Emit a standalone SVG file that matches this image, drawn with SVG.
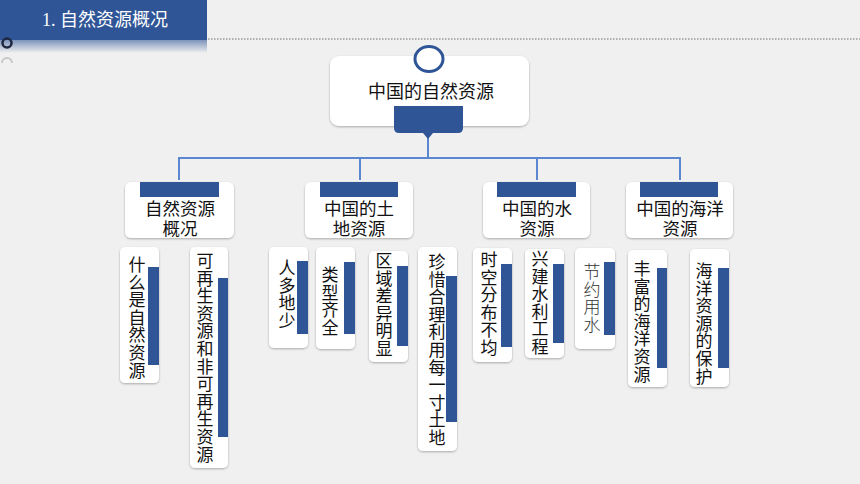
<svg xmlns="http://www.w3.org/2000/svg" width="860" height="484" viewBox="0 0 860 484">
<defs>
<linearGradient id="hg" x1="0" y1="0" x2="0" y2="1">
<stop offset="0" stop-color="#2f5597" stop-opacity="0.6"/>
<stop offset="1" stop-color="#2f5597" stop-opacity="0"/>
</linearGradient>
<filter id="sh" x="-20%" y="-20%" width="140%" height="140%">
<feDropShadow dx="0" dy="1" stdDeviation="1.2" flood-color="#000" flood-opacity="0.3"/>
</filter>
</defs>
<style>
.box{fill:#fff;filter:url(#sh)}
.bar{fill:#2f5597}
.ln{stroke:#5b87d0;stroke-width:2;fill:none}
.t{font-family:"Liberation Sans","Noto Sans CJK SC",sans-serif;fill:#111;font-size:17.5px;text-anchor:middle}
.v{font-family:"Liberation Sans","Noto Sans CJK SC",sans-serif;fill:#111;font-size:17px;writing-mode:vertical-rl;letter-spacing:0.6px}
</style>
<rect width="860" height="484" fill="#f0f0f0"/>
<g id="header">
<rect x="0" y="40" width="207" height="13" fill="url(#hg)"/>
<rect x="0" y="0" width="207" height="40" fill="#2f5597"/>
<line x1="208" y1="39" x2="860" y2="39" stroke="#999" stroke-width="1.5" stroke-dasharray="1.5,1.5"/>
<text x="42" y="26" font-family="'Liberation Serif','Noto Sans CJK SC',serif" font-size="18" fill="#fff">1. 自然资源概况</text>
<circle cx="7" cy="43" r="4.5" fill="none" stroke="#1e2740" stroke-width="2.5"/>
<path d="M2,63 A5,5 0 0 1 12,63" fill="none" stroke="#c8c8c8" stroke-width="2"/>
</g>
<g id="connectors">
<line class="ln" x1="428" y1="136" x2="428" y2="158"/>
<line class="ln" x1="179" y1="158" x2="681" y2="158"/>
<line class="ln" x1="179" y1="157" x2="179" y2="180"/>
<line class="ln" x1="360" y1="157" x2="360" y2="180"/>
<line class="ln" x1="537" y1="157" x2="537" y2="180"/>
<line class="ln" x1="680" y1="157" x2="680" y2="180"/>
</g>
<g id="root">
<rect class="box" x="330" y="56" width="199" height="70" rx="9"/>
<path class="bar" d="M394,106 H463 V128 Q463,133 458,133 H433 L428,139 L423,133 H399 Q394,133 394,128 Z"/>
<ellipse cx="429" cy="59" rx="14" ry="12.5" fill="#fff" stroke="#2f5597" stroke-width="3"/>
<text class="t" x="431" y="98" style="font-size:18px">中国的自然资源</text>
</g>
<g id="n1">
<rect class="box" x="125" y="182" width="109" height="56" rx="6"/>
<rect class="bar" x="140" y="182" width="79" height="15"/>
<text class="t" x="180" y="215">自然资源</text>
<text class="t" x="180" y="235">概况</text>
</g>
<g id="n2">
<rect class="box" x="305" y="182" width="108" height="56" rx="6"/>
<rect class="bar" x="320" y="182" width="78" height="15"/>
<text class="t" x="359" y="215">中国的土</text>
<text class="t" x="359" y="235">地资源</text>
</g>
<g id="n3">
<rect class="box" x="483" y="182" width="107" height="56" rx="6"/>
<rect class="bar" x="497" y="182" width="79" height="15"/>
<text class="t" x="537" y="215">中国的水</text>
<text class="t" x="537" y="235">资源</text>
</g>
<g id="n4">
<rect class="box" x="626" y="182" width="107" height="56" rx="6"/>
<rect class="bar" x="640" y="182" width="78" height="15"/>
<text class="t" x="680" y="215">中国的海洋</text>
<text class="t" x="680" y="235">资源</text>
</g>
<g id="c1">
<rect class="box" x="120" y="247" width="39" height="136" rx="5"/>
<rect class="bar" x="148" y="267" width="11" height="98"/>
<text class="v" x="135" y="256">什么是自然资源</text>
</g>
<g id="c2">
<rect class="box" x="190" y="247" width="38" height="221" rx="5"/>
<rect class="bar" x="218" y="278" width="10" height="159"/>
<text class="v" x="203" y="252">可再生资源和非可再生资源</text>
</g>
<g id="c3">
<rect class="box" x="269" y="247" width="39" height="101" rx="5"/>
<rect class="bar" x="297" y="261" width="11" height="73"/>
<text class="v" x="285" y="259">人多地少</text>
</g>
<g id="c4">
<rect class="box" x="316" y="247" width="39" height="102" rx="5"/>
<rect class="bar" x="344" y="262" width="11" height="72"/>
<text class="v" x="328" y="266">类型齐全</text>
</g>
<g id="c5">
<rect class="box" x="369" y="251" width="39" height="111" rx="5"/>
<rect class="bar" x="397" y="266" width="11" height="80"/>
<text class="v" x="382" y="252">区域差异明显</text>
</g>
<g id="c6">
<rect class="box" x="418" y="247" width="39" height="204" rx="5"/>
<rect class="bar" x="446" y="276" width="11" height="146"/>
<text class="v" x="435" y="253">珍惜合理利用每一寸土地</text>
</g>
<g id="c7">
<rect class="box" x="473" y="248" width="39" height="114" rx="5"/>
<rect class="bar" x="501" y="264" width="11" height="83"/>
<text class="v" x="487" y="251">时空分布不均</text>
</g>
<g id="c8">
<rect class="box" x="525" y="249" width="39" height="109" rx="5"/>
<rect class="bar" x="553" y="264" width="11" height="79"/>
<text class="v" x="538" y="250">兴建水利工程</text>
</g>
<g id="c9">
<rect class="box" x="575" y="248" width="40" height="101" rx="5"/>
<rect class="bar" x="604" y="262" width="11" height="73"/>
<text class="v" x="590" y="263" style="font-weight:300;fill:#333">节约用水</text>
</g>
<g id="c10">
<rect class="box" x="628" y="250" width="39" height="137" rx="5"/>
<rect class="bar" x="657" y="268" width="10" height="100"/>
<text class="v" x="640" y="260">丰富的海洋资源</text>
</g>
<g id="c11">
<rect class="box" x="690" y="249" width="39" height="138" rx="5"/>
<rect class="bar" x="718" y="268" width="11" height="100"/>
<text class="v" x="702" y="262">海洋资源的保护</text>
</g>
</svg>
